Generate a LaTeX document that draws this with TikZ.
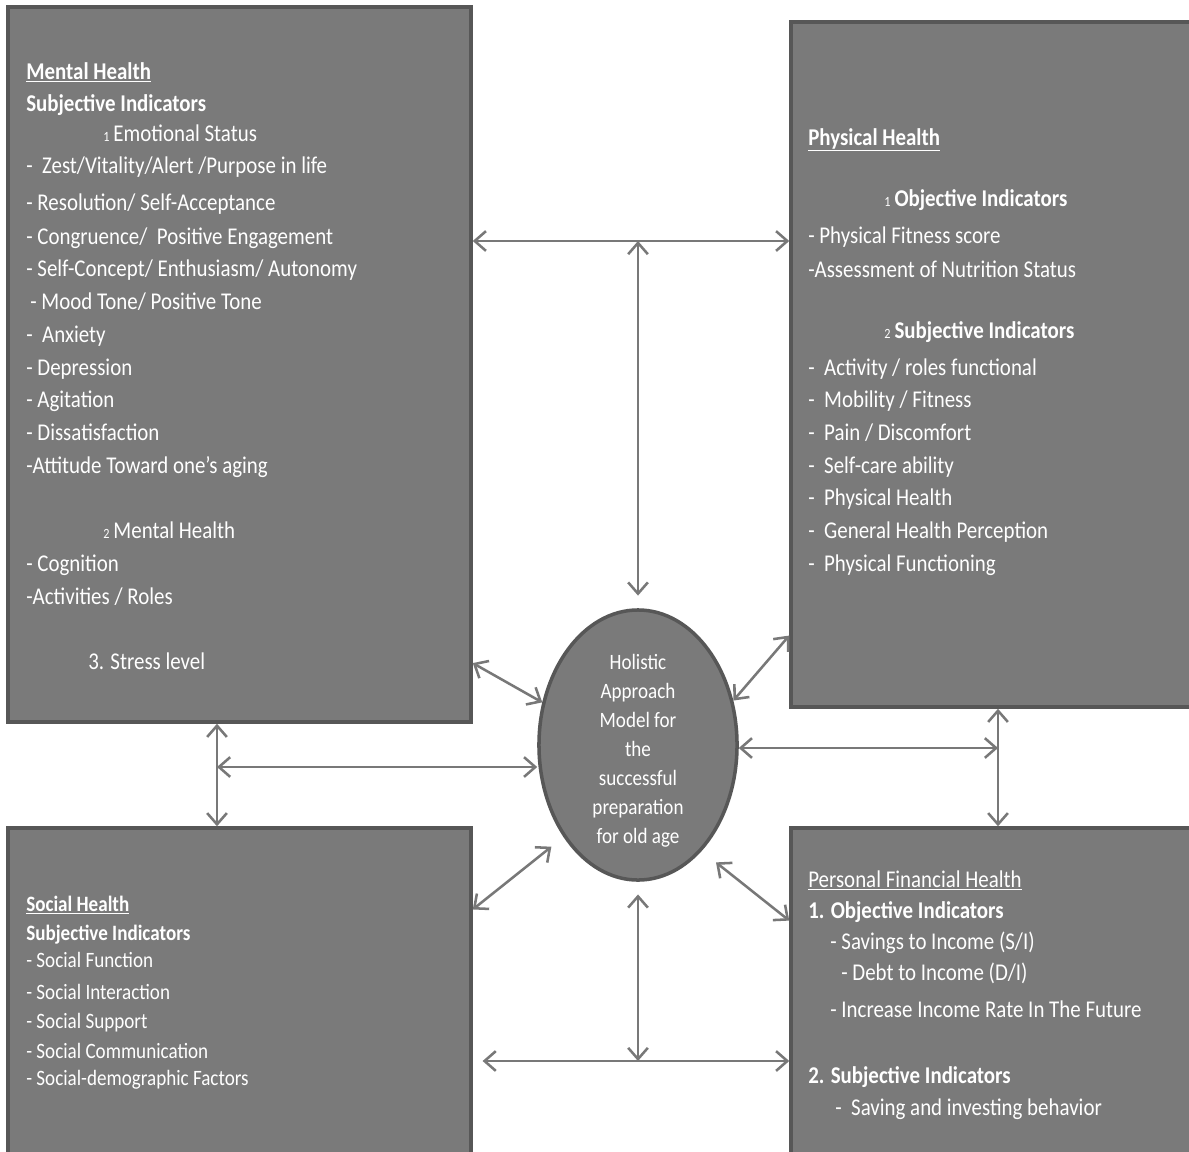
\documentclass[tikz,border=0pt]{standalone}
\usepackage{fontspec}
\setmainfont{Carlito}[FakeStretch=0.87]
\usetikzlibrary{arrows.meta,positioning,shapes.geometric,fit}

\definecolor{boxfill}{HTML}{7A7A7A}
\definecolor{boxedge}{HTML}{575757}
\definecolor{arrgray}{HTML}{787878}
\newcommand{\subnum}[1]{{\fontsize{10}{12}\selectfont #1}\,}

\begin{document}
\begin{tikzpicture}[x=0.025cm,y=-0.025cm,
  box/.style={draw=boxedge,line width=2.5pt,fill=boxfill,inner sep=0pt},
  hub/.style={ellipse,draw=boxedge,line width=2.5pt,fill=boxfill,inner sep=0pt,
    minimum width=4.95cm,minimum height=6.75cm},
  hubtext/.style={text=white,align=center,inner sep=0pt,
    font=\fontsize{15.6}{20.6}\selectfont},
  tx/.style={anchor=base west,inner sep=0pt,text=white,font=\fontsize{17.1}{20}\selectfont},
  txs/.style={tx,font=\fontsize{15.6}{18}\selectfont},
  ar/.style={{Straight Barb[length=8pt,width=14pt]}-{Straight Barb[length=8pt,width=14pt]},
    line width=1.8pt,draw=arrgray}]
\useasboundingbox[fill=white] (0,0) rectangle (1189,1151);
\clip (0,0) rectangle (1189,1151);

% the four boxes and the model
\node[box,fit={(8,7) (471,722)}]     (mh) {};
\node[box,fit={(791,22) (1196,707)}] (ph) {};
\node[box,fit={(8,828) (471,1170)}]  (sh) {};
\node[box,fit={(791,828) (1196,1170)}] (fh) {};
\node[hub] (core) at (638,745) {};
\node[hubtext,yshift=-4.3pt] (coretxt) at (core.center)
  {Holistic\\Approach\\Model for\\the\\successful\\preparation\\for old age};

% mental health
\foreach \xx/\yy/\tx [count=\i] in {
  26/79/{\underline{\textbf{Mental Health}}},
  26/111/{\textbf{Subjective Indicators}},
  103/141/{\subnum{1}Emotional Status},
  26/173/{-~~Zest/Vitality/Alert /Purpose in life},
  26/210/{- Resolution/ Self-Acceptance},
  26/244/{- Congruence/~~Positive Engagement},
  26/276/{- Self-Concept/ Enthusiasm/ Autonomy},
  30/309/{- Mood Tone/ Positive Tone},
  26/342/{-~~Anxiety},
  26/375/{- Depression},
  26/407/{- Agitation},
  26/440/{- Dissatisfaction},
  26/473/{-Attitude Toward one’s~aging},
  103/538/{\subnum{2}Mental Health},
  26/571/{- Cognition},
  26/604/{-Activities / Roles},
  88/669/{3. Stress level}}
  \node[tx] (m\i) at (\xx,\yy) {\tx};

% physical health
\foreach \xx/\yy/\tx [count=\i] in {
  808/145/{\underline{\textbf{Physical Health}}},
  884/206/{\subnum{1}\textbf{Objective Indicators}},
  808/243/{- Physical Fitness score},
  808/277/{-Assessment of Nutrition Status},
  884/338/{\subnum{2}\textbf{Subjective Indicators}},
  808/375/{-~~Activity / roles functional},
  808/407/{-~~Mobility / Fitness},
  808/440/{-~~Pain / Discomfort},
  808/473/{-~~Self-care ability},
  808/505/{-~~Physical Health},
  808/538/{-~~General Health Perception},
  808/571/{-~~Physical Functioning}}
  \node[tx] (p\i) at (\xx,\yy) {\tx};

% social health
\foreach \yy/\tx [count=\i] in {
  911/{\underline{\textbf{Social Health}}},
  940/{\textbf{Subjective Indicators}},
  967/{- Social Function},
  999/{- Social Interaction},
  1028/{- Social Support},
  1058/{- Social Communication},
  1085/{- Social-demographic Factors}}
  \node[txs] (s\i) at (26,\yy) {\tx};

% financial health
\foreach \xx/\yy/\tx [count=\i] in {
  808/887/{\underline{Personal Financial Health}},
  808/918/{\textbf{1. Objective Indicators}},
  830/949/{- Savings to Income (S/I)},
  841/980/{- Debt to Income (D/I)},
  830/1017/{- Increase Income Rate In The Future},
  808/1083/{\textbf{2. Subjective Indicators}},
  835/1115/{-~~Saving and investing behavior}}
  \node[tx] (f\i) at (\xx,\yy) {\tx};

% links
\coordinate (hl) at (0,241);
\coordinate (lj) at (217,767);
\coordinate (rj) at (998,748);
\coordinate (bl) at (0,1061);
\draw[ar] (mh.east |- hl) -- (ph.west |- hl);
\draw[ar,shorten >=9pt] (core.north |- hl) -- (core.north);
\draw[ar] (mh.-52) -- (core.156);
\draw[ar] (ph.233) -- (core.25);
\draw[ar] (mh.south -| lj) -- (sh.north -| lj);
\draw[ar] (lj) -- (core.west |- lj);
\draw[ar] (core.east |- rj) -- (rj);
\draw[ar] (ph.south -| rj) -- (fh.north -| rj);
\draw[ar,shorten <=11pt] (core.231) -- (sh.21.5);
\draw[ar,shorten <=13pt] (core.-59) -- (fh.159);
\draw[ar,shorten <=9pt] (core.south) -- (core.south |- bl);
\draw[ar,shorten <=7pt] (sh.east |- bl) -- (fh.west |- bl);
\end{tikzpicture}
\end{document}
